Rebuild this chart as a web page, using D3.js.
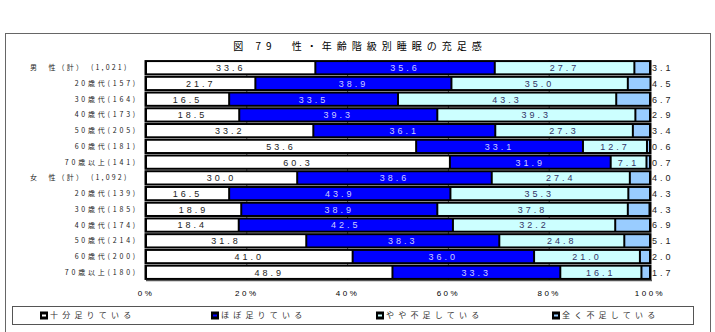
<!DOCTYPE html>
<html>
<head>
<meta charset="utf-8">
<script src="https://cdn.jsdelivr.net/npm/d3@7"></script>
<style>
body { margin: 0; background: #fff; }
text { font-family: "Liberation Sans", "Noto Sans CJK JP", sans-serif; }
.jp { font-family: "Noto Sans CJK JP", sans-serif; }
</style>
</head>
<body>
<div class="canvas"></div>
<script>
// data
const groups = ['男　性（計）　(1,021)', '20歳代(157)', '30歳代(164)', '40歳代(173)', '50歳代(205)', '60歳代(181)', '70歳以上(141)',
	'女　性（計）　(1,092)', '20歳代(139)', '30歳代(185)', '40歳代(174)', '50歳代(214)', '60歳代(200)', '70歳以上(180)'];
const enough = [33.6, 21.7, 16.5, 18.5, 33.2, 53.6, 60.3, 30.0, 16.5, 18.9, 18.4, 31.8, 41.0, 48.9];
const mostly = [35.6, 38.9, 33.5, 39.3, 36.1, 33.1, 31.9, 38.6, 43.9, 38.9, 42.5, 38.3, 36.0, 33.3];
const slightly = [27.7, 35.0, 43.3, 39.3, 27.3, 12.7, 7.1, 27.4, 35.3, 37.8, 32.2, 24.8, 21.0, 16.1];
const notAtAll = [3.1, 4.5, 6.7, 2.9, 3.4, 0.6, 0.7, 4.0, 4.3, 4.3, 6.9, 5.1, 2.0, 1.7];
const seriesNames = ['十分足りている', 'ほぼ足りている', 'やや不足している', '全く不足している'];
const ticks = [0, 20, 40, 60, 80, 100];

const W = 715, H = 332;
const m = { t: 60, r: 65, b: 52, l: 146 };

const svg = d3.select('.canvas').append('svg')
	.attr('width', W).attr('height', H);

//outer frame
svg.append('rect')
	.attr('x', 5.5).attr('y', 33.5).attr('width', 705).attr('height', 310)
	.attr('fill', 'none').attr('stroke', '#666').attr('stroke-width', 1);

//title
svg.append('text')
	.attr('class', 'jp')
	.attr('x', 360).attr('y', 50)
	.attr('text-anchor', 'middle')
	.style('font-size', '10px')
	.style('letter-spacing', '5px')
	.text('図 79　性・年齢階級別睡眠の充足感');

const x = d3.scaleLinear().domain([0, 100]).range([m.l, 650]);
const y = d3.scaleBand().domain(groups.map((d, i) => i)).range([m.t, 280]).paddingInner(0.22).paddingOuter(0.1);

//grid
svg.append('g').selectAll('line')
	.data(ticks.slice(1, -1))
	.enter().append('line')
	.attr('x1', d => x(d)).attr('x2', d => x(d))
	.attr('y1', m.t).attr('y2', 280)
	.attr('stroke', '#555').attr('stroke-width', 1);

svg.append('line')
	.attr('x1', x(0)).attr('x2', x(100) + 2)
	.attr('y1', 280.5).attr('y2', 280.5)
	.attr('stroke', '#555').attr('stroke-width', 1.5);

const colors = ['#ffffff', '#0000ff', '#ccffff', '#99ccff'];
const textColors = ['#222', '#ccccff', '#333366', '#222'];
const series = [enough, mostly, slightly, notAtAll];

const rows = groups.map((g, i) => {
	let acc = 0;
	return series.map((s, k) => {
		const seg = { row: i, k: k, v: s[i], x0: acc, x1: acc + s[i] };
		acc += s[i];
		return seg;
	});
});

const bars = svg.append('g');
rows.forEach(segs => {
	const row = bars.append('g');
	//black bar background
	row.append('rect')
		.attr('x', x(0) - 1.5).attr('y', y(segs[0].row) - 1.5)
		.attr('width', x(100) - x(0) + 3).attr('height', y.bandwidth() + 3)
		.attr('fill', '#000');
	row.selectAll('rect.seg')
		.data(segs)
		.enter().append('rect')
		.attr('class', 'seg')
		.attr('x', d => x(d.x0) + 1)
		.attr('y', d => y(d.row) + 0.5)
		.attr('width', d => Math.max(0, x(d.x1) - x(d.x0) - 2))
		.attr('height', y.bandwidth() - 1)
		.attr('fill', d => colors[d.k]);
	row.selectAll('text')
		.data(segs)
		.enter().append('text')
		.attr('x', d => d.k == 3 ? x(100) + 2 : (x(d.x0) + x(d.x1)) / 2)
		.attr('y', d => y(d.row) + y.bandwidth() / 2)
		.attr('dy', '.38em')
		.attr('text-anchor', d => d.k == 3 ? 'start' : 'middle')
		.attr('fill', d => textColors[d.k])
		.style('font-size', '9px')
		.style('letter-spacing', '3px')
		.text(d => d.v.toFixed(1));
});

//row labels
svg.append('g').selectAll('text')
	.data(groups)
	.enter().append('text')
	.attr('class', 'jp')
	.attr('x', (d, i) => (i == 0 || i == 7) ? 30 : 138)
	.attr('y', (d, i) => y(i) + y.bandwidth() / 2)
	.attr('dy', '.35em')
	.attr('text-anchor', (d, i) => (i == 0 || i == 7) ? 'start' : 'end')
	.style('font-size', '7px')
	.style('letter-spacing', (d, i) => (i == 0 || i == 7) ? '2.2px' : '2.8px')
	.attr('fill', '#222')
	.text(d => d);

//axis labels
svg.append('g').selectAll('text')
	.data(ticks)
	.enter().append('text')
	.attr('x', d => x(d))
	.attr('y', 296)
	.attr('text-anchor', 'middle')
	.style('font-size', '8px')
	.style('letter-spacing', '2.5px')
	.text(d => d + '%');

//legend
svg.append('rect')
	.attr('x', 12.5).attr('y', 306.5).attr('width', 681).attr('height', 18)
	.attr('fill', '#fff').attr('stroke', '#555');

const legendX = [49, 220, 385, 561];
const legend = svg.append('g').selectAll('g')
	.data(seriesNames)
	.enter().append('g')
	.attr('transform', (d, i) => `translate(${legendX[i]},315.5)`);
legend.append('rect')
	.attr('x', -9).attr('y', -4).attr('width', 8).attr('height', 8)
	.attr('fill', '#000');
legend.append('rect')
	.attr('x', -7).attr('y', -1).attr('width', 4).attr('height', 2)
	.attr('fill', (d, i) => i == 0 ? '#fff' : colors[i]);
legend.append('text')
	.attr('class', 'jp')
	.attr('x', 1).attr('dy', '.35em')
	.attr('fill', '#333')
	.style('font-size', '8px')
	.style('letter-spacing', '4.2px')
	.text(d => d);
</script>
</body>
</html>
